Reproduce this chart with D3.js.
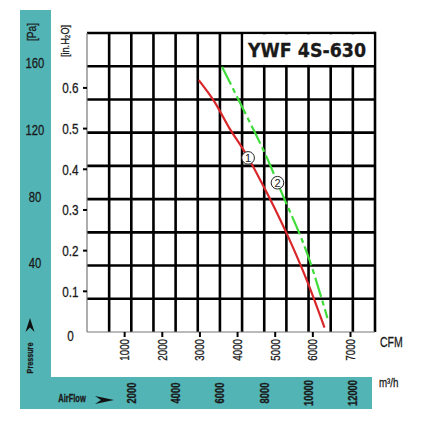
<!DOCTYPE html>
<html><head><meta charset="utf-8">
<script src="https://cdn.jsdelivr.net/npm/d3@7"></script>
<style>
html,body{margin:0;padding:0;background:#fff;}
svg{display:block;}
text{font-family:"Liberation Sans",Arial,sans-serif;fill:#1a1a1a;stroke:#1a1a1a;stroke-width:0.3px;}
</style></head>
<body>
<svg id="c" width="423" height="437"></svg>
<script>
// ---- data ----
const cfmTicks = [1000, 2000, 3000, 4000, 5000, 6000, 7000];
const m3hTicks = [2000, 4000, 6000, 8000, 10000, 12000];
const inTicks = [0, 0.1, 0.2, 0.3, 0.4, 0.5, 0.6];
const inTickLabels = ["0", "0.1", "0.2", "0.3", "0.4", "0.5", "0.6"];
const paTicks = [40, 80, 120, 160];
const curve1CFM = [2968, 3392, 3790, 4188, 4630, 5301, 5857, 6308];
const curve1In  = [0.619, 0.565, 0.500, 0.443, 0.369, 0.243, 0.123, 0.011];
const curve2CFM = [3586, 3923, 4365, 4718, 5160, 5910, 6388];
const curve2In  = [0.652, 0.590, 0.508, 0.441, 0.345, 0.177, 0.034];
const title = "YWF 4S-630";

// ---- layout ----
const svg = d3.select("#c");
const L = 87, R = 375, T = 33, B = 332;
const teal = "#52b4b5";
const x = d3.scaleLinear().domain([0, 7651]).range([L, R]);       // CFM
const xm = d3.scaleLinear().domain([0, 13000]).range([L, R]);     // m3/h
const y = d3.scaleLinear().domain([0, 0.735]).range([B, T]);      // in.H2O
const yPa = d3.scaleLinear().domain([0, 160]).range([329.5, 63]); // Pa labels

// condense text like a narrow face
function narrow(sel, f) {
  sel.each(function () {
    const w = this.getComputedTextLength();
    d3.select(this).attr("textLength", w * (f || 0.8)).attr("lengthAdjust", "spacingAndGlyphs");
  });
  return sel;
}

// teal L-band
svg.append("rect").attr("x", 20).attr("y", 10).attr("width", 31).attr("height", 399).attr("fill", teal);
svg.append("rect").attr("x", 20).attr("y", 377).attr("width", 352).attr("height", 32).attr("fill", teal);

// grid
const g = svg.append("g");
const vGrid = d3.range(1000, 13000, 1000);
g.selectAll("line.v").data(vGrid).join("line")
  .attr("x1", d => xm(d)).attr("x2", d => xm(d)).attr("y1", T).attr("y2", B)
  .attr("stroke", "#000").attr("stroke-width", 2.6);
const hStep = 0.735 / 9;
const hGrid = d3.range(1, 10).map(i => i * hStep);
g.selectAll("line.h").data(hGrid).join("line")
  .attr("x1", L).attr("x2", R).attr("y1", d => y(d)).attr("y2", d => y(d))
  .attr("stroke", "#000").attr("stroke-width", 2.6);
g.append("line").attr("x1", R).attr("x2", R).attr("y1", T - 1.3).attr("y2", B)
  .attr("stroke", "#000").attr("stroke-width", 2.6);
g.append("line").attr("x1", L).attr("x2", L).attr("y1", T).attr("y2", B).attr("stroke", "#777").attr("stroke-width", 1.2);
g.append("line").attr("x1", L).attr("x2", R).attr("y1", B).attr("y2", B).attr("stroke", "#777").attr("stroke-width", 1.2);

// title box
svg.append("rect").attr("x", xm(7000) + 1.3).attr("y", T + 1.3)
  .attr("width", R - xm(7000) - 2.6).attr("height", y(0.735 - hStep) - T - 2.6).attr("fill", "#fff");
svg.append("text").attr("x", 248).attr("y", 57).text(title)
  .attr("textLength", 118).attr("lengthAdjust", "spacingAndGlyphs")
  .style("font-family", "'DejaVu Sans Condensed','DejaVu Sans',sans-serif")
  .style("font-weight", "bold").style("font-size", "20px").attr("fill", "#111");

// curves
const line = d3.line().x(d => x(d[0])).y(d => y(d[1])).curve(d3.curveMonotoneX);
svg.append("path").datum(curve1CFM.map((c, i) => [c, curve1In[i]]))
  .attr("d", line).attr("fill", "none").attr("stroke", "#d8262b").attr("stroke-width", 2.2);
svg.append("path").datum(curve2CFM.map((c, i) => [c, curve2In[i]]))
  .attr("d", line).attr("fill", "none").attr("stroke", "#3fdc3a").attr("stroke-width", 2.2)
  .attr("stroke-dasharray", "20,4,5,4");

// curve markers
const marks = [{n: "1", c: 4280, v: 0.428}, {n: "2", c: 5060, v: 0.367}];
marks.forEach(m => {
  svg.append("circle").attr("cx", x(m.c)).attr("cy", y(m.v)).attr("r", 6.3)
    .attr("fill", "#fff").attr("stroke", "#222").attr("stroke-width", 1);
  svg.append("text").attr("x", x(m.c)).attr("y", y(m.v)).attr("dy", "0.36em")
    .attr("text-anchor", "middle").style("font-size", "11px").style("stroke-width", "0").text(m.n);
});

// y axis (in.H2O)
svg.selectAll("line.yt").data(inTicks.slice(1)).join("line")
  .attr("x1", L - 4).attr("x2", L).attr("y1", d => y(d)).attr("y2", d => y(d))
  .attr("stroke", "#000").attr("stroke-width", 2);
narrow(svg.selectAll("text.yl").data(inTicks).join("text")
  .attr("x", 70.5).attr("y", d => y(d) + (d === 0 ? 4 : 0)).attr("dy", "0.36em")
  .attr("text-anchor", "middle").style("font-size", "15px")
  .text((d, i) => inTickLabels[i]), 0.78);
narrow(svg.append("text").attr("transform", "translate(65,41) rotate(-90)")
  .attr("text-anchor", "middle").attr("dy", "0.36em").style("font-size", "11.5px")
  .text("[in.H₂O]"), 0.8);

// Pa labels
narrow(svg.selectAll("text.pa").data(paTicks).join("text")
  .attr("x", 35).attr("y", d => yPa(d)).attr("dy", "0.36em")
  .attr("text-anchor", "middle").style("font-size", "15px").text(d => d), 0.75);
narrow(svg.append("text").attr("transform", "translate(32,32) rotate(-90)")
  .attr("text-anchor", "middle").attr("dy", "0.36em").style("font-size", "12px")
  .text("[Pa]"), 0.85);
svg.append("path").attr("d", "M30,318 L34.5,332 L30,327.5 L25.5,332 Z").attr("fill", "#111");
narrow(svg.append("text").attr("transform", "translate(29.5,358) rotate(-90)")
  .attr("text-anchor", "middle").attr("dy", "0.36em").style("font-size", "9px")
  .style("font-weight", "bold").text("Pressure"), 0.8);

// x axis CFM
svg.selectAll("line.xt").data(cfmTicks).join("line")
  .attr("x1", d => x(d)).attr("x2", d => x(d)).attr("y1", B).attr("y2", B + 5)
  .attr("stroke", "#000").attr("stroke-width", 2);
narrow(svg.selectAll("text.xl").data(cfmTicks).join("text")
  .attr("transform", d => `translate(${x(d)},${B + 7}) rotate(-90)`)
  .attr("text-anchor", "end").attr("dy", "0.36em").style("font-size", "12.5px").text(d => d), 0.78);
narrow(svg.append("text").attr("x", 380).attr("y", 347).style("font-size", "14px").text("CFM"), 0.75);

// x axis m3/h
narrow(svg.selectAll("text.ml").data(m3hTicks).join("text")
  .attr("transform", d => `translate(${xm(d)},393) rotate(-90)`)
  .attr("text-anchor", "middle").attr("dy", "0.36em").style("font-size", "12px")
  .style("font-weight", "bold").text(d => d), 0.78);
narrow(svg.append("text").attr("x", 379).attr("y", 387).style("font-size", "13px").text("m³/h"), 0.75);
narrow(svg.append("text").attr("x", 72).attr("y", 398).attr("text-anchor", "middle")
  .attr("dy", "0.36em").style("font-size", "10px").style("font-weight", "bold").text("AirFlow"), 0.75);
svg.append("path").attr("d", "M95,396 L114,400 L95,404 L101,400 Z").attr("fill", "#111");
</script>
</body></html>
